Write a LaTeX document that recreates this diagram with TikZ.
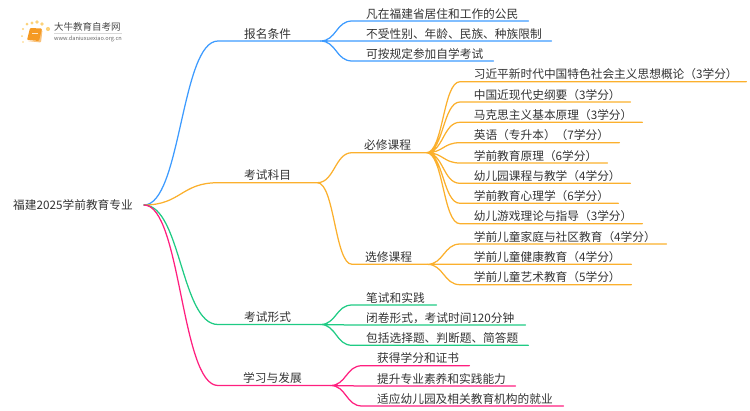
\documentclass[tikz,border=0pt]{standalone}
\usepackage{fontspec}
\setmainfont{Noto Sans CJK SC}
\definecolor{cblue}{HTML}{3D9BFF}
\definecolor{cgold}{HTML}{FBB02D}
\definecolor{cgreen}{HTML}{1FCB84}
\definecolor{cpink}{HTML}{FF1F7F}
\definecolor{ctext}{HTML}{333333}
\definecolor{cbook}{HTML}{F59A23}
\definecolor{cdot}{HTML}{FCD27A}
\tikzset{
  lab/.style={anchor=south west,inner xsep=0pt,inner ysep=0.6pt,text height=9.8pt,text depth=2.2pt,align=left,text=ctext,font=\fontsize{11.7}{13}\selectfont},
  link/.style={line width=1.25pt,line cap=round}
}
% name, x start of rule, x end of rule, y of rule, text offset, text
\newcommand\tn[6]{%
  \pgfmathsetmacro\tnw{#3-#2}%
  \node[lab,text width=\tnw pt] (#1) at (#2,#4) {\hspace*{#5pt}#6};}
% parent, child, curve reach
\newcommand\lk[3]{(#1.south east) .. controls +(#3,0) and +(-#3,0) .. (#2.south west) -- (#2.south east)}
\begin{document}
\begin{tikzpicture}[x=1pt,y=-1pt]
\useasboundingbox (0,0) rectangle (750,410);
% logo
\foreach \p/\r in {{37,22}/1.9,{32,23}/1.7,{42,24}/1.8,{48,29}/2.1,{27,24}/1.5,{23,29}/1.2,{22,36}/1,{23,42}/.8}
  \fill[cdot] (\p) circle (\r);
\fill[cbook!60!white,rounded corners=1pt] (27,41) -- (41,42.5) -- (42.5,30) -- (40,30) -- (38,41) -- cycle;
\fill[cbook,rounded corners=1pt] (30,28) -- (42,28.5) -- (39,41) -- (27,40) -- cycle;
\fill[white!75!cbook] (32,33) rectangle (38,34);
\node[anchor=west,inner sep=0pt,text=ctext!90!white,font=\fontsize{9.5}{10}\selectfont] (lt) at (54,27) {大牛教育自考网};
\coordinate (ll) at (54,33.5);
\coordinate (lr) at (122,33.5);
\draw[black!15,line width=.6pt] (ll) -- (lr);
\node[anchor=west,inner sep=0pt,text=black!60,font=\fontsize{5.6}{7}\selectfont] (lu) at (54,38.5) {www.daniuxuexiao.org.cn};
% root
\node[anchor=east,inner sep=0pt,text=ctext,font=\fontsize{11.7}{13}\selectfont] (root) at (133,205) {福建2025学前教育专业};
\coordinate (r0) at (144,205);
% branches
\tn{a}{218}{320}{41}{26}{报名条件}
\tn{b}{218}{317}{182.7}{26}{考试科目}
\tn{c}{218}{320}{324.5}{26}{考试形式}
\tn{d}{218}{330}{385.5}{25}{学习与发展}
% leaves a
\tn{a1}{352}{528}{21}{14}{凡在福建省居住和工作的公民}
\tn{a2}{352}{551}{41}{14}{不受性别、年龄、民族、种族限制}
\tn{a3}{352}{493}{61}{14}{可按规定参加自学考试}
% sub b
\tn{b1}{352}{426}{152.7}{12}{必修课程}
\tn{b2}{352}{427}{264.3}{13}{选修课程}
\tn{m1}{460}{746}{81.7}{13.6}{习近平新时代中国特色社会主义思想概论（3学分）}
\tn{m2}{460}{630}{102}{13.6}{中国近现代史纲要（3学分）}
\tn{m3}{460}{642}{122.3}{13.6}{马克思主义基本原理（3学分）}
\tn{m4}{460}{619}{142.7}{13.6}{英语（专升本）（7学分）}
\tn{m5}{460}{607}{163}{13.6}{学前教育原理（6学分）}
\tn{m6}{460}{630}{183.3}{13.6}{幼儿园课程与教学（4学分）}
\tn{m7}{460}{618}{203.3}{13.6}{学前教育心理学（6学分）}
\tn{m8}{460}{642}{223.7}{13.6}{幼儿游戏理论与指导（3学分）}
\tn{e1}{460}{666}{244}{13.6}{学前儿童家庭与社区教育（4学分）}
\tn{e2}{460}{631}{264.3}{13.6}{学前儿童健康教育（4学分）}
\tn{e3}{460}{631}{284.7}{13.6}{学前儿童艺术教育（5学分）}
% leaves c
\tn{c1}{352}{436}{305}{14}{笔试和实践}
\tn{c2}{352}{525}{325}{14}{闭卷形式，考试时间120分钟}
\tn{c3}{352}{528}{345.3}{14}{包括选择题、判断题、简答题}
% leaves d
\tn{d1}{362}{469}{365.7}{15}{获得学分和证书}
\tn{d2}{362}{515}{386}{15}{提升专业素养和实践能力}
\tn{d3}{362}{563}{406}{15}{适应幼儿园及相关教育机构的就业}
% connectors
\draw[link,cblue] (r0) .. controls +(37,0) and +(-37,0) .. (a.south west) -- (a.south east);
\draw[link,cgold] (r0) .. controls +(37,0) and +(-37,0) .. (b.south west) -- (b.south east);
\draw[link,cgreen] (r0) .. controls +(37,0) and +(-37,0) .. (c.south west) -- (c.south east);
\draw[link,cpink] (r0) .. controls +(37,0) and +(-37,0) .. (d.south west) -- (d.south east);
\draw[link,cblue] \lk{a}{a1}{16} \lk{a}{a2}{16} \lk{a}{a3}{16};
\draw[link,cgold] \lk{b}{b1}{17} \lk{b}{b2}{17};
\draw[link,cgold] \lk{b1}{m1}{17} \lk{b1}{m2}{17} \lk{b1}{m3}{17} \lk{b1}{m4}{17} \lk{b1}{m5}{17} \lk{b1}{m6}{17} \lk{b1}{m7}{17} \lk{b1}{m8}{17};
\draw[link,cgold] \lk{b2}{e1}{16} \lk{b2}{e2}{16} \lk{b2}{e3}{16};
\draw[link,cgreen] \lk{c}{c1}{16} \lk{c}{c2}{16} \lk{c}{c3}{16};
\draw[link,cpink] \lk{d}{d1}{16} \lk{d}{d2}{16} \lk{d}{d3}{16};
\end{tikzpicture}
\end{document}
